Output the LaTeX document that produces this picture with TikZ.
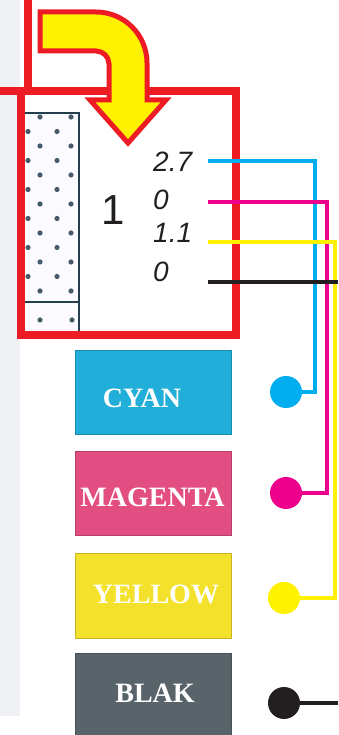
\documentclass[tikz,border=0pt]{standalone}
\usepackage{fontspec}
\setmainfont{Liberation Serif}
\newfontfamily\arialfont{Liberation Sans}
\definecolor{inkCyan}{RGB}{0,174,239}
\definecolor{inkMagenta}{RGB}{236,0,140}
\definecolor{inkYellow}{RGB}{255,242,0}
\definecolor{inkBlack}{RGB}{35,31,32}
\definecolor{boxCyan}{RGB}{33,174,216}
\definecolor{boxMagenta}{RGB}{227,78,130}
\definecolor{boxYellow}{RGB}{244,225,44}
\definecolor{boxBlak}{RGB}{88,100,106}
\definecolor{frameRed}{RGB}{237,28,36}
\definecolor{panelInk}{RGB}{36,62,78}
\definecolor{pageGrey}{RGB}{239,241,244}

\begin{document}
\begin{tikzpicture}[x=1pt, y=1pt,
  inkbox/.style={rectangle, minimum width=156pt, inner sep=0pt, draw=#1!80!black, line width=0.6pt, fill=#1},
  inklabel/.style={text=white, inner sep=0pt, font=\fontsize{28}{28}\selectfont\bfseries},
  inkdot/.style={circle, minimum size=32pt, inner sep=0pt, fill=#1},
  inkline/.style={line width=4.5pt, #1},
  value/.style={anchor=base west, inner sep=0pt, font=\arialfont\itshape\fontsize{28}{28}\selectfont, inkBlack}]
\useasboundingbox (0,0) rectangle (338,735);
%% scanned page strip on the left
\fill[pageGrey] (0,19) rectangle (20,735);
%% dotted panel
\fill[blue!2] (24,400) rectangle (80,622);
\draw[panelInk, line width=2.4pt] (24,622) -- (79,622) -- (79,400);
\draw[panelInk, line width=2.4pt] (24,433) -- (79,433);
\foreach \k in {0,2,...,12}
  \foreach \x in {40,71}
    \fill[panelInk!85] (\x,{618-14.5*\k}) circle (2.6pt);
\foreach \k in {1,3,...,11}
  \foreach \x in {28,57}
    \fill[panelInk!85] (\x,{618-14.5*\k}) circle (2.6pt);
\foreach \x in {40,72}
  \fill[panelInk!85] (\x,415) circle (2.6pt);
%% red frames
\draw[frameRed, line width=8pt] (21,400) rectangle (236,644);
\draw[frameRed, line width=8pt] (28,736) -- (28,644) -- (0,644);
%% bent arrow
\draw[frameRed, line width=5pt, fill=inkYellow, line join=miter]
  (40,723) -- (96,723) arc (90:0:51pt) -- (147,635) -- (166,635) -- (128,592)
  -- (90,635) -- (109,635) -- (109,671) arc (0:90:13pt) -- (40,684) -- cycle;
%% values
\node[anchor=base, inner sep=0pt, font=\arialfont\fontsize{42}{42}\selectfont, inkBlack] (tint) at (113,510) {1};
\node[value] (valC) at (153,563) {2.7};
\node[value] (valM) at (153,525) {0};
\node[value] (valY) at (153,492) {1.1};
\node[value] (valK) at (153,453) {0};
%% ink boxes
\node[inkbox=boxCyan, minimum height=84pt] (cyanbox) at (153,343) {};
\node[inkbox=boxMagenta, minimum height=84pt] (magentabox) at (153,242) {};
\node[inkbox=boxYellow, minimum height=85pt] (yellowbox) at (153,139.5) {};
\node[inkbox=boxBlak, minimum height=82pt] (blakbox) at (153,41) {};
\node[inklabel] (cyantext) at (142,337) {CYAN};
\node[inklabel] (magentatext) at (152.5,238) {MAGENTA};
\node[inklabel] (yellowtext) at (156,141) {YELLOW};
\node[inklabel] (blaktext) at (155,42) {BLAK};
%% dots and leads
\node[inkdot=inkCyan] (cyandot) at (286,343) {};
\node[inkdot=inkMagenta] (magentadot) at (286,242) {};
\node[inkdot=inkYellow] (yellowdot) at (284,137) {};
\node[inkdot=inkBlack] (blackdot) at (284,32) {};
\coordinate (cyanstart) at (208,574);
\coordinate (magentastart) at (208,533);
\coordinate (yellowstart) at (208,493);
\coordinate (blackstart) at (208,453);
\coordinate (blackend) at (338,453);
\coordinate (blackout) at (338,32);
\draw[inkline=inkCyan] (cyanstart) -| (315,343) -- (cyandot);
\draw[inkline=inkMagenta] (magentastart) -| (327,242) -- (magentadot);
\draw[inkline=inkYellow] (yellowstart) -| (335,137) -- (yellowdot);
\draw[inkline=inkBlack] (blackstart) -- (blackend);
\draw[inkline=inkBlack] (blackdot) -- (blackout);
\end{tikzpicture}
\end{document}
